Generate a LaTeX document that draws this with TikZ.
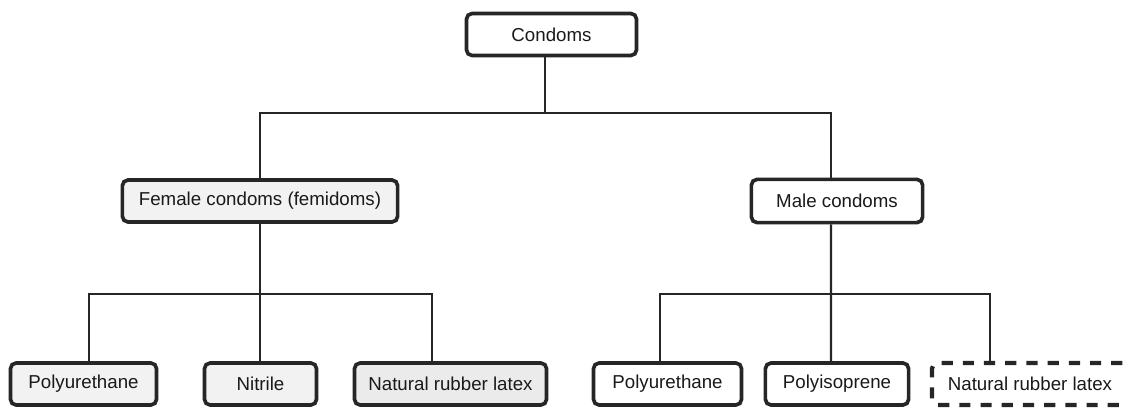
\documentclass[tikz,border=0pt]{standalone}
\usepackage{fontspec}
\setmainfont{Liberation Sans}
\usepackage{tikz}

\begin{document}
\begin{tikzpicture}[x=0.025cm,y=-0.025cm,
    box/.style={draw=black!85,line width=2.6pt,rounded corners=4pt,inner sep=0pt,
        minimum height=1.05cm,text=black!90,font=\fontsize{13.3}{15}\selectfont},
    greybox/.style={box,fill=black!5},
    dashbox/.style={box,line width=3pt,dash pattern=on 0.28cm off 0.25cm},
    link/.style={draw=black!85,line width=1.6pt}]
        \useasboundingbox (0,0) rectangle (1123,408);

        \node[box] (cond) at (551.5,34.5) [minimum width=4.25cm] {Condoms};
        \node[greybox] (fem) at (260,201) [minimum width=6.88cm] {Female condoms (femidoms)};
        \node[box] (male) at (837,201) [minimum width=4.28cm,minimum height=1.08cm] {Male condoms};

        % female branch
        \node[greybox] (fpu) at (83.5,384) [minimum width=3.65cm] {Polyurethane};
        \node[greybox] (fnit) at (260.5,384) [minimum width=2.8cm] {Nitrile};
        \node[box,fill=black!8] (fnrl) at (450.5,384) [minimum width=4.8cm] {Natural rubber latex};

        % male branch
        \node[box] (mpu) at (667.5,384) [minimum width=3.7cm] {Polyurethane};
        \node[box] (mpoly) at (837,384) [minimum width=3.58cm] {Polyisoprene};
        \node[dashbox] (mnrl) at (1030,384) [minimum width=4.9cm] {Natural rubber latex};

        \coordinate (tbus) at (545,113);
        \coordinate (fbus) at (260,294);
        \coordinate (mbus) at (831,294);

        \draw[link] (cond.south -| tbus) -- (tbus);
        \draw[link] (fem.north) |- (tbus) -| ([xshift=-0.15cm]male.north);

        \draw[link] (fem.south) -- (fbus);
        \draw[link] ([xshift=0.14cm]fpu.north) |- (fbus) -| ([xshift=-0.46cm]fnrl.north);
        \draw[link] (fbus) -- (fnit.north -| fbus);

        \draw[link] ([xshift=-0.15cm]male.south) -- (mbus);
        \draw[link] ([xshift=-0.19cm]mpu.north) |- (mbus) -| ([xshift=-1cm]mnrl.north);
        \draw[link] (mbus) -- ([xshift=-0.15cm]mpoly.north);
\end{tikzpicture}
\end{document}
